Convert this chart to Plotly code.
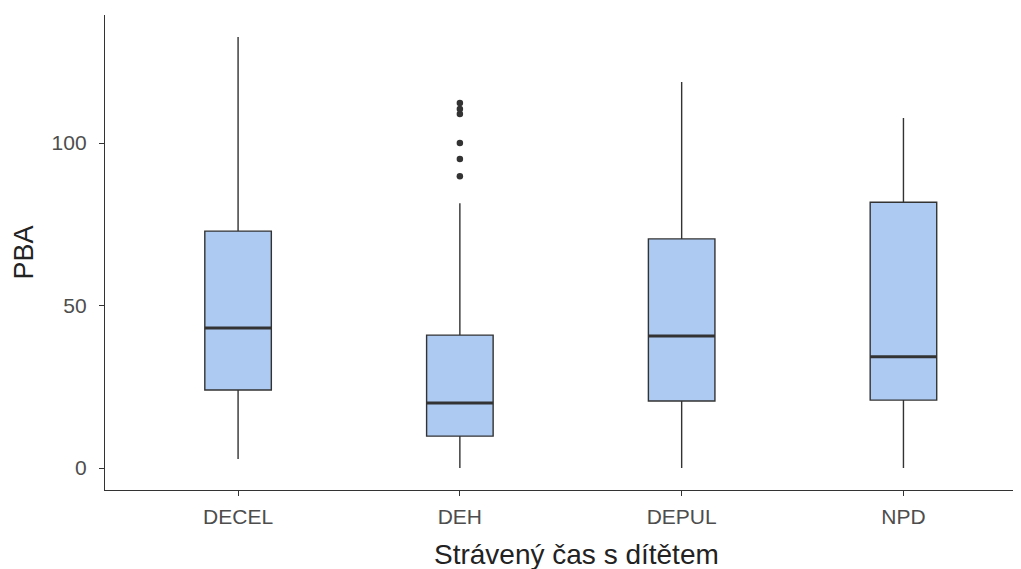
import plotly.graph_objects as go

categories = ["DECEL", "DEH", "DEPUL", "NPD"]
lower_whisker = [2.8, 0.0, 0.0, 0.0]
q1 = [24.0, 9.8, 20.6, 20.9]
median = [43.1, 20.0, 40.6, 34.2]
q3 = [72.9, 40.9, 70.5, 81.8]
upper_whisker = [132.6, 81.5, 118.8, 107.7]
outlier_cat = ["DEH", "DEH", "DEH", "DEH", "DEH", "DEH"]
outlier_val = [89.8, 95.1, 100.0, 108.9, 110.5, 112.3]

y_ticks = [0, 50, 100]
x_title = "Strávený čas s dítětem"
y_title = "PBA"

FILL = "#accaf2"
LINE = "#333333"
BOX_W = 0.3

fig = go.Figure()
pos = list(range(len(categories)))
fig.add_trace(go.Box(
    x=pos, q1=q1, median=median, q3=q3,
    lowerfence=lower_whisker, upperfence=upper_whisker,
    fillcolor=FILL, line=dict(color=LINE, width=1.4),
    width=BOX_W, boxpoints=False, whiskerwidth=0, showlegend=False,
    hoverinfo="skip",
))
opos = [categories.index(c) for c in outlier_cat]
fig.add_trace(go.Scatter(
    x=opos, y=outlier_val, mode="markers",
    marker=dict(color=LINE, size=6.5), showlegend=False,
))
for i, m in enumerate(median):
    fig.add_shape(type="line", xref="x", yref="y",
                  x0=i - BOX_W / 2, x1=i + BOX_W / 2, y0=m, y1=m,
                  line=dict(color=LINE, width=3))

font_family = "Liberation Sans, Arial, sans-serif"
fig.update_layout(
    width=1013, height=561,
    margin=dict(l=97, r=0, t=7, b=79),
    paper_bgcolor="white", plot_bgcolor="white",
    font=dict(family=font_family, color="#4d4d4d", size=21),
    xaxis=dict(
        range=[-0.6, 3.53], tickvals=pos, ticktext=categories,
        showline=True, linecolor=LINE, linewidth=1.3,
        ticks="outside", ticklen=5, tickcolor=LINE, tickwidth=1.3,
        ticklabelstandoff=3,
        showgrid=False, zeroline=False, tickfont=dict(size=21, color="#4d4d4d"),
    ),
    yaxis=dict(
        range=[-6.77, 139.4], tickvals=y_ticks,
        showline=True, linecolor=LINE, linewidth=1.3,
        ticks="outside", ticklen=5, tickcolor=LINE, tickwidth=1.3,
        ticklabelstandoff=8,
        showgrid=False, zeroline=False, tickfont=dict(size=21, color="#4d4d4d"),
    ),
    annotations=[
        dict(text=x_title, xref="paper", yref="paper", x=0.5, y=0,
             xshift=13, yshift=-64, xanchor="center", yanchor="middle", showarrow=False,
             font=dict(size=28, color="#222222", family=font_family)),
        dict(text=y_title, xref="paper", yref="paper", x=0, y=0.5,
             xshift=-82, xanchor="center", yanchor="middle", showarrow=False,
             textangle=-90, font=dict(size=27, color="#222222", family=font_family)),
    ],
)
fig.write_html("out.html")
